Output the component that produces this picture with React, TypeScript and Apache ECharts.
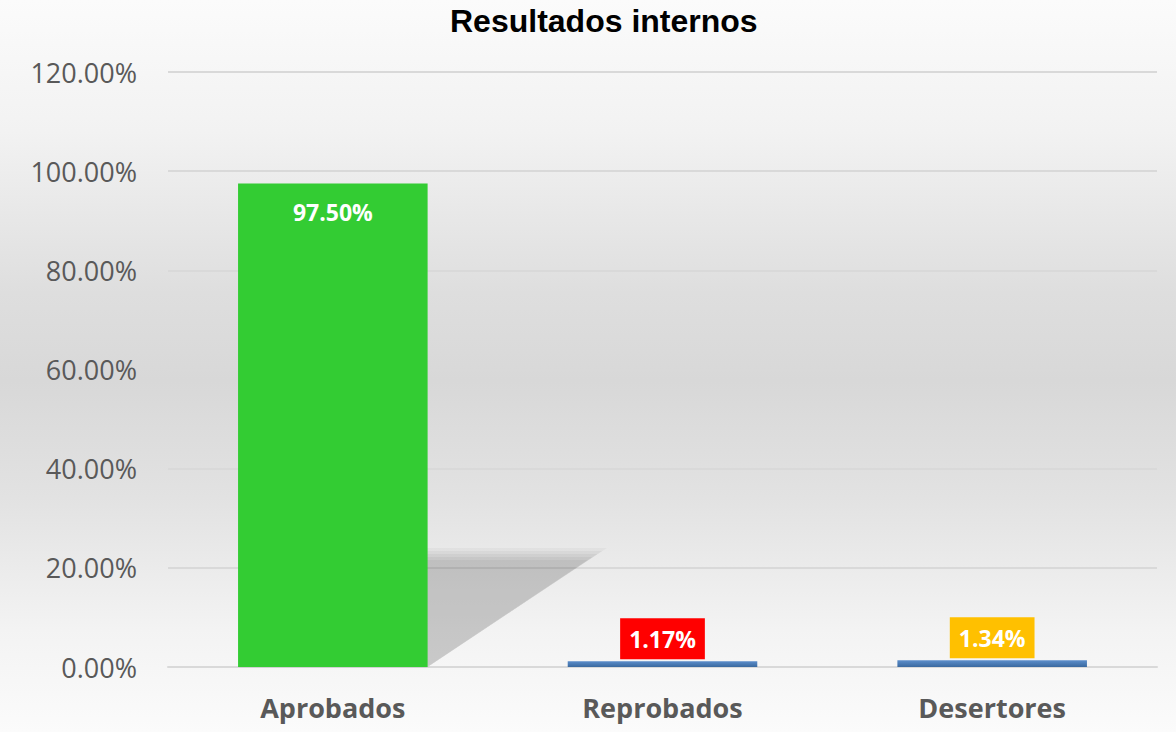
import React, { useEffect, useRef } from "react";
import * as echarts from "echarts";

const titleText = "Resultados internos";
const categories = ["Aprobados", "Reprobados", "Desertores"];
const values = [97.5, 1.17, 1.34];
const labelBoxColors = ["transparent", "#FF0000", "#FFC000"];
const yTicks = [0, 20, 40, 60, 80, 100, 120];

const FONT = "'Open Sans', 'DejaVu Sans', sans-serif";
const pct = (v: number) => v.toFixed(2) + "%";

export default function App() {
  const ref = useRef<HTMLDivElement>(null);

  useEffect(() => {
    if (!ref.current) return;
    const chart = echarts.init(ref.current, null, { renderer: "svg" });

    const blueGrad = new echarts.graphic.LinearGradient(0, 0, 0, 1, [
      { offset: 0, color: "#5b8dcb" },
      { offset: 1, color: "#3a699f" },
    ]);

    const barData = values.map((v, i) => {
      if (i === 0) {
        return {
          value: v,
          itemStyle: { color: "#33CC33" },
          label: {
            show: true,
            position: "insideTop",
            distance: 17,
            color: "#ffffff",
            fontFamily: FONT,
            fontWeight: "bold",
            fontSize: 23,
            formatter: (p: any) => pct(p.value),
          },
        };
      }
      return {
        value: v,
        itemStyle: { color: blueGrad },
        label: {
          show: true,
          position: "top",
          distance: 2,
          color: "#ffffff",
          fontFamily: FONT,
          fontWeight: "bold",
          fontSize: 23,
          lineHeight: 29,
          backgroundColor: labelBoxColors[i],
          padding: [6, 9, 6, 9],
          formatter: (p: any) => pct(p.value),
        },
      };
    });

    const option: any = {
      animation: false,
      backgroundColor: "transparent",
      title: {
        text: titleText,
        left: 445,
        top: 0,
        textStyle: {
          fontFamily: "'Liberation Sans', Arial, sans-serif",
          fontWeight: "bold",
          fontSize: 32,
          color: "#000000",
        },
      },
      grid: { left: 168, right: 19, top: 72, bottom: 65, containLabel: false },
      xAxis: {
        type: "category",
        data: categories,
        axisLine: { show: true, lineStyle: { color: "#d9d9d9", width: 2 } },
        axisTick: { show: false },
        axisLabel: {
          color: "#595959",
          fontFamily: FONT,
          fontWeight: "bold",
          fontSize: 27,
          margin: 27,
        },
      },
      yAxis: {
        type: "value",
        min: yTicks[0],
        max: yTicks[yTicks.length - 1],
        interval: yTicks[1] - yTicks[0],
        axisLine: { show: false },
        axisTick: { show: false },
        splitLine: { lineStyle: { color: "#d9d9d9", width: 2 } },
        axisLabel: {
          color: "#595959",
          fontFamily: FONT,
          fontSize: 27,
          margin: 31,
          formatter: (v: number) => pct(v),
        },
      },
      series: [
        {
          type: "custom",
          z: 1,
          silent: true,
          data: [[0, values[0]]],
          renderItem: (params: any, api: any) => {
            const idx = api.value(0);
            const v = api.value(1);
            const base = api.coord([idx, 0]);
            const top = api.coord([idx, v * 0.238]);
            const band = api.size([1, 0])[0];
            const bw = band * 0.575;
            const left = base[0] - bw / 2;
            const right = base[0] + bw / 2;
            const dx = 173;
            const mk = (inset: number, alpha: number) => ({
              type: "polygon",
              shape: {
                points: [
                  [left + dx, top[1] + inset],
                  [right + dx - inset * 1.6, top[1] + inset],
                  [right + inset * 0.3, base[1] - inset * 0.2],
                  [left, base[1] - inset * 0.2],
                ],
              },
              style: { fill: `rgba(0,0,0,${alpha})` },
            });
            return {
              type: "group",
              children: [mk(-4, 0.03), mk(-1, 0.04), mk(2, 0.04), mk(5, 0.04), mk(8, 0.04)],
            };
          },
        },
        {
          type: "bar",
          z: 3,
          barWidth: "57.5%",
          data: barData,
        },
      ],
    };

    chart.setOption(option);
    return () => chart.dispose();
  }, []);

  return (
    <div
      style={{
        position: "absolute",
        left: 0,
        top: 0,
        width: 1176,
        height: 732,
        background:
          "linear-gradient(to bottom, #fbfbfb 0%, #f2f2f2 18%, #dedede 40%, #d8d8d8 52%, #e2e2e2 68%, #f3f3f3 86%, #fbfbfb 100%)",
      }}
    >
      <div ref={ref} style={{ width: 1176, height: 732 }} />
    </div>
  );
}
